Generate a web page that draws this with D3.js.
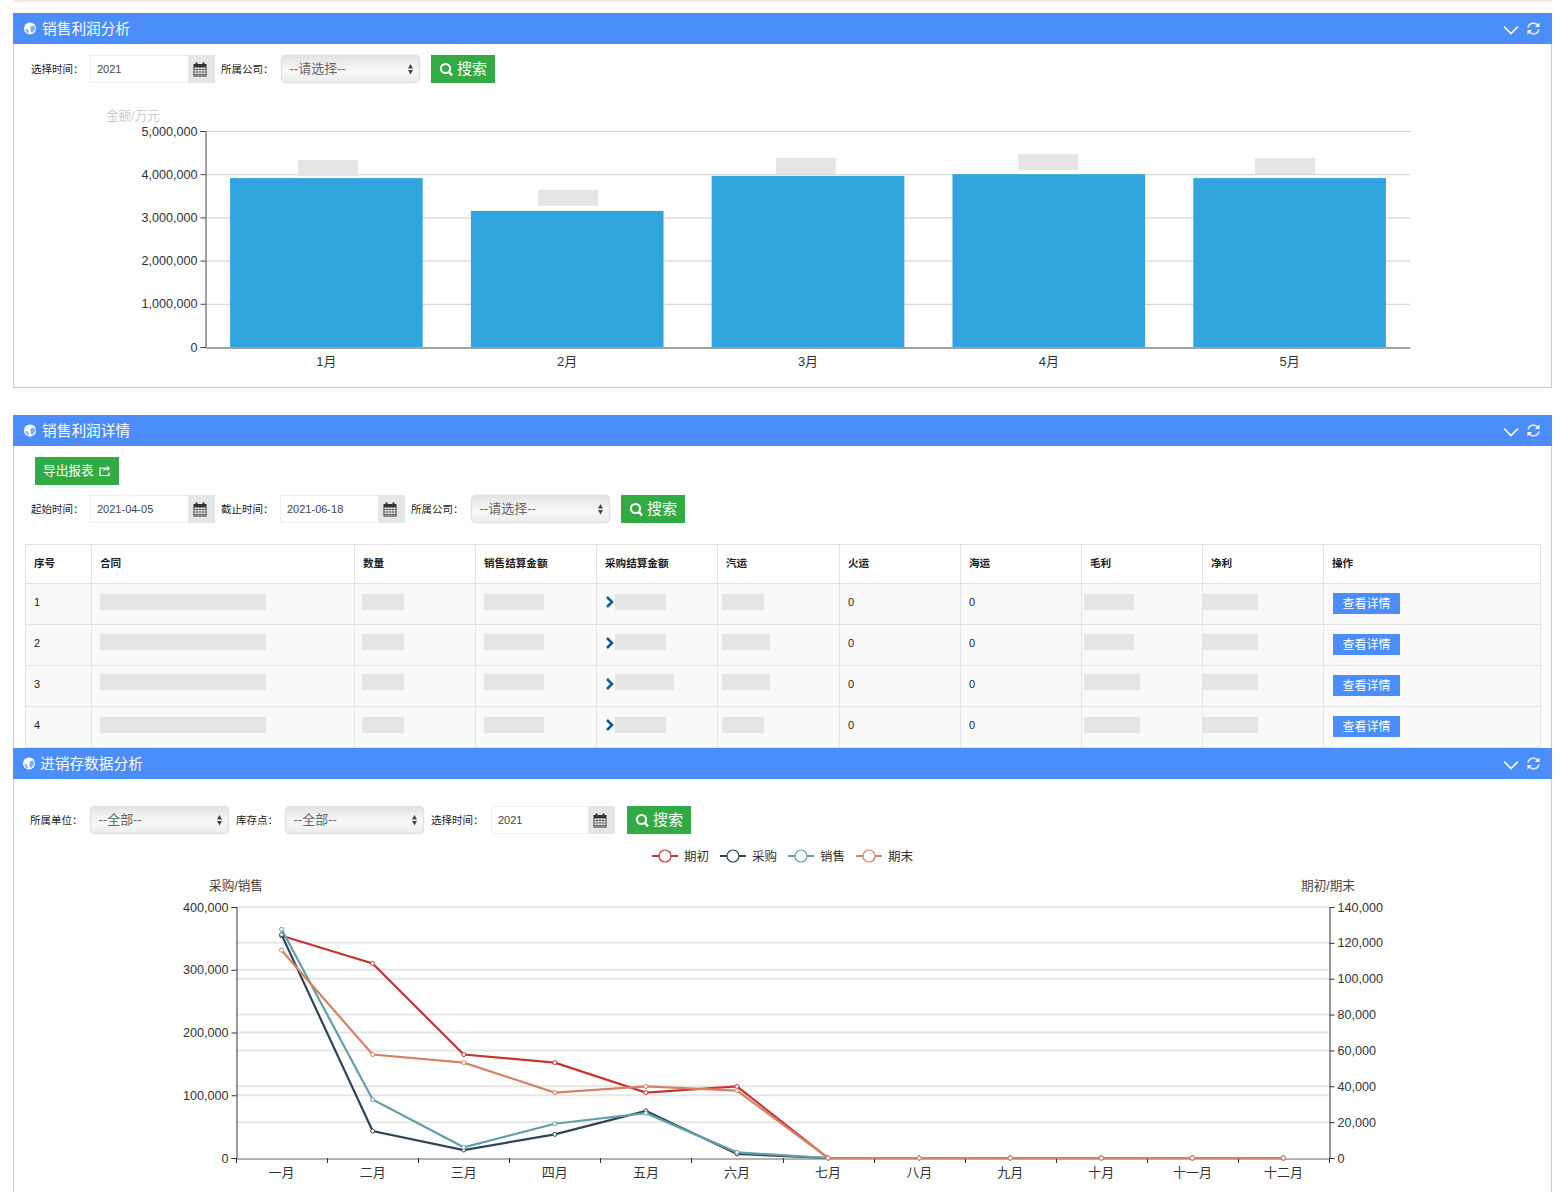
<!DOCTYPE html>
<html lang="zh">
<head>
<meta charset="utf-8">
<title>销售利润分析</title>
<script src="https://cdn.jsdelivr.net/npm/d3@7/dist/d3.min.js"></script>
<style>
  html, body { margin: 0; padding: 0; background: #fff; overflow: hidden; }
  svg { display: block; }
  text { font-family: "Liberation Sans", "Noto Sans CJK SC", sans-serif; }
</style>
</head>
<body>
<svg id="page" width="1566" height="1192"></svg>
<script>
"use strict";

// profit bar chart
const BAR_MONTHS = ["1月", "2月", "3月", "4月", "5月"];
const BAR_VALUES = [3910000, 3150000, 3960000, 4000000, 3910000];
const BAR_TICKS = [0, 1000000, 2000000, 3000000, 4000000, 5000000];

// detail table
const TABLE_HEADERS = ["序号", "合同", "数量", "销售结算金额", "采购结算金额", "汽运", "火运", "海运", "毛利", "净利", "操作"];
const TABLE_ROWS = ["1", "2", "3", "4"];
const RAIL_COSTS = ["0", "0", "0", "0"];
const SEA_COSTS = ["0", "0", "0", "0"];

// stock line chart
const LINE_MONTHS = ["一月", "二月", "三月", "四月", "五月", "六月", "七月", "八月", "九月", "十月", "十一月", "十二月"];
const OPENING = [124000, 108500, 57700, 53200, 36500, 39900, 0, 0, 0, 0, 0, 0];
const PURCHASE = [356000, 43000, 12700, 37600, 75200, 6400, 0, 0, 0, 0, 0, 0];
const SALES = [364500, 93200, 17000, 54600, 71500, 9000, 0, 0, 0, 0, 0, 0];
const CLOSING = [115900, 57700, 53200, 36500, 39900, 37600, 0, 0, 0, 0, 0, 0];
const LEFT_TICKS = [0, 100000, 200000, 300000, 400000];
const RIGHT_TICKS = [0, 20000, 40000, 60000, 80000, 100000, 120000, 140000];

const BLUE = "#4a8dfb";
const GREEN = "#33ab45";
const MASK = "#e5e5e5";
const EDGE = "#b9d2fb";
const COMMA = d3.format(",");

const svg = d3.select("#page");

drawPanel(13, 13, 1539, 375, "销售利润分析", "#c9c9c9");
drawPanel(13, 415, 1539, 333, "销售利润详情", null);
drawBarChart();
drawDetailTable();
drawControls();
drawPanel(13, 748, 1539, 460, "进销存数据分析", null);
drawStockControls();
drawLineChart();

function drawPanel(x, y, w, h, title, bottomColor) {
  const g = svg.append("g");
  if (y === 13) g.append("rect").attr("x", x).attr("y", 0).attr("width", w).attr("height", 2).attr("fill", "#ececec");
  g.append("rect").attr("x", x).attr("y", y).attr("width", w).attr("height", h).attr("fill", "#fff");
  g.append("line").attr("x1", x + 0.5).attr("x2", x + 0.5).attr("y1", y).attr("y2", y + h).attr("stroke", EDGE);
  g.append("line").attr("x1", x + w - 0.5).attr("x2", x + w - 0.5).attr("y1", y).attr("y2", y + h).attr("stroke", EDGE);
  if (bottomColor) g.append("line").attr("x1", x).attr("x2", x + w).attr("y1", y + h - 0.5).attr("y2", y + h - 0.5).attr("stroke", bottomColor);
  g.append("rect").attr("x", x).attr("y", y).attr("width", w).attr("height", 31).attr("fill", BLUE);
  const cy = y + 15.5;
  const titleX = y === 748 ? x + 27 : x + 29;
  const globeX = y === 748 ? x + 16 : x + 17;
  g.append("circle").attr("cx", globeX).attr("cy", cy).attr("r", 6).attr("fill", "#fff");
  g.append("path").attr("d", "M" + (globeX + 0.5) + " " + (cy - 2) + "l3.5 -1 l1.5 3 l-3 4.5 l-2 -1.5 z M" + (globeX - 5) + " " + (cy + 0.5) + "l3 0.5 l1 3 l-1.5 1 z").attr("fill", "#7fb0fc");
  g.append("text").attr("x", titleX).attr("y", cy + 5).attr("font-size", 14.7).attr("fill", "#fff").text(title);
  const ax = x + w - 41;
  g.append("path").attr("d", "M" + (ax - 7) + " " + (cy - 2) + "l7 7 l7 -7").attr("fill", "none").attr("stroke", "#fff").attr("stroke-width", 1.6);
  const rx = x + w - 18.5;
  g.append("path").attr("d", "M" + (rx - 5.5) + " " + (cy - 1) + "A5.6 5.6 0 0 1 " + (rx + 4.5) + " " + (cy - 3)).attr("fill", "none").attr("stroke", "#fff").attr("stroke-opacity", 0.8).attr("stroke-width", 1.6);
  g.append("path").attr("d", "M" + (rx + 5.5) + " " + (cy + 1) + "A5.6 5.6 0 0 1 " + (rx - 4.5) + " " + (cy + 3)).attr("fill", "none").attr("stroke", "#fff").attr("stroke-opacity", 0.8).attr("stroke-width", 1.6);
  g.append("path").attr("d", "M" + (rx + 6) + " " + (cy - 6) + "v4.5h-4.5z").attr("fill", "#fff");
  g.append("path").attr("d", "M" + (rx - 6) + " " + (cy + 6) + "v-4.5h4.5z").attr("fill", "#fff");
}

function drawLabel(x, y, text) {
  svg.append("text").attr("x", x).attr("y", y + 4).attr("font-size", 10.5).attr("fill", "#222").text(text);
}

function drawDateInput(x, y, w, value) {
  svg.append("rect").attr("x", x + 0.5).attr("y", y + 0.5).attr("width", w - 1).attr("height", 27).attr("fill", "#fff").attr("stroke", "#eee");
  svg.append("rect").attr("x", x + w - 27).attr("y", y).attr("width", 27).attr("height", 28).attr("fill", "#e6e6e6");
  svg.append("text").attr("x", x + 7).attr("y", y + 18).attr("font-size", 11).attr("fill", "#444").text(value);
  const cx = x + w - 15;
  const cy = y + 14;
  const icon = svg.append("g").attr("transform", "translate(" + (cx - 6.5) + "," + (cy - 6.5) + ")");
  icon.append("rect").attr("x", 0.5).attr("y", 2).attr("width", 12).attr("height", 11.5).attr("fill", "#fff").attr("stroke", "#333");
  icon.append("rect").attr("x", 0.5).attr("y", 2).attr("width", 12).attr("height", 3).attr("fill", "#333");
  d3.range(3, 12, 3).forEach(function addVertical(p) {
    icon.append("line").attr("x1", p + 0.5).attr("x2", p + 0.5).attr("y1", 5).attr("y2", 13).attr("stroke", "#555").attr("stroke-width", 0.8);
  });
  d3.range(7, 13, 2.5).forEach(function addHorizontal(p) {
    icon.append("line").attr("x1", 0.5).attr("x2", 12.5).attr("y1", p).attr("y2", p).attr("stroke", "#555").attr("stroke-width", 0.8);
  });
  [3, 10].forEach(function addRing(p) {
    icon.append("rect").attr("x", p - 1).attr("y", 0).attr("width", 2).attr("height", 3.5).attr("fill", "#333");
  });
}

function drawSelect(x, y, value) {
  const id = "sel" + x + "_" + y;
  const grad = svg.append("defs").append("linearGradient").attr("id", id).attr("x1", 0).attr("x2", 0).attr("y1", 0).attr("y2", 1);
  grad.append("stop").attr("offset", 0).attr("stop-color", "#e3e3e3");
  grad.append("stop").attr("offset", 0.55).attr("stop-color", "#f8f8f8");
  grad.append("stop").attr("offset", 1).attr("stop-color", "#ececec");
  svg.append("rect").attr("x", x + 0.5).attr("y", y + 0.5).attr("width", 138).attr("height", 27).attr("rx", 4).attr("fill", "url(#" + id + ")").attr("stroke", "#e2e2e2").attr("stroke-width", 1.5);
  svg.append("text").attr("x", x + 8.5).attr("y", y + 18).attr("font-size", 13).attr("fill", "#666").text(value);
  svg.append("path").attr("d", "M" + (x + 129.5) + " " + (y + 9) + "l-2.5 4.5h5z M" + (x + 129.5) + " " + (y + 19.5) + "l-2.5 -4.5h5z").attr("fill", "#444");
}

function drawSearchButton(x, y) {
  svg.append("rect").attr("x", x).attr("y", y).attr("width", 64).attr("height", 28).attr("fill", GREEN);
  svg.append("circle").attr("cx", x + 14.5).attr("cy", y + 13.5).attr("r", 4.6).attr("fill", "none").attr("stroke", "#fff").attr("stroke-width", 2);
  svg.append("line").attr("x1", x + 18).attr("y1", y + 17).attr("x2", x + 21).attr("y2", y + 20.5).attr("stroke", "#fff").attr("stroke-width", 2.4);
  svg.append("text").attr("x", x + 26).attr("y", y + 19).attr("font-size", 15).attr("fill", "#fff").text("搜索");
}

function drawControls() {
  drawLabel(31, 69, "选择时间：");
  drawDateInput(90, 55, 125, "2021");
  drawLabel(221, 69, "所属公司：");
  drawSelect(281, 55, "--请选择--");
  drawSearchButton(431, 55);

  svg.append("rect").attr("x", 35).attr("y", 457).attr("width", 84).attr("height", 28).attr("fill", GREEN);
  svg.append("text").attr("x", 43).attr("y", 475).attr("font-size", 12.7).attr("fill", "#fff").text("导出报表");
  svg.append("path").attr("d", "M106 468h-6v7.5h9v-3").attr("fill", "none").attr("stroke", "#fff").attr("stroke-width", 1.2);
  svg.append("path").attr("d", "M103 471.5c0.5 -3 2 -4 4.5 -4v-2l2.5 3l-2.5 3v-2c-2 0 -3 0.5 -4.5 2z").attr("fill", "#fff");

  drawLabel(31, 509, "起始时间：");
  drawDateInput(90, 495, 125, "2021-04-05");
  drawLabel(221, 509, "截止时间：");
  drawDateInput(280, 495, 125, "2021-06-18");
  drawLabel(411, 509, "所属公司：");
  drawSelect(471, 495, "--请选择--");
  drawSearchButton(621, 495);
}

function drawStockControls() {
  drawLabel(30, 820, "所属单位：");
  drawSelect(90, 806, "--全部--");
  drawLabel(236, 820, "库存点：");
  drawSelect(285, 806, "--全部--");
  drawLabel(431, 820, "选择时间：");
  drawDateInput(491, 806, 124, "2021");
  drawSearchButton(627, 806);
}

function styleAxis(g, color, size) {
  g.selectAll(".domain").attr("stroke", color);
  g.selectAll(".tick line").attr("stroke", color);
  g.selectAll(".tick text").attr("fill", "#333").attr("font-size", size).attr("font-family", null);
  g.attr("font-family", null);
}

function drawBarChart() {
  const x = d3.scaleBand().domain(BAR_MONTHS).range([206, 1410]).paddingInner(0.2).paddingOuter(0.1);
  const y = d3.scaleLinear().domain([0, 5000000]).range([347, 131]);
  const g = svg.append("g");

  g.selectAll("line.grid").data(BAR_TICKS.slice(1)).join("line").attr("class", "grid")
    .attr("x1", 206).attr("x2", 1410).attr("y1", function gy(d) { return y(d) + 0.5; }).attr("y2", function gy(d) { return y(d) + 0.5; })
    .attr("stroke", "#ccc");

  g.selectAll("rect.bar").data(BAR_VALUES).join("rect").attr("class", "bar")
    .attr("x", function bx(d, i) { return x(BAR_MONTHS[i]); }).attr("width", x.bandwidth())
    .attr("y", function by(d) { return y(d); }).attr("height", function bh(d) { return 347 - y(d); })
    .attr("fill", "#31a3dd");

  // hidden value labels above the bars
  const lift = [18, 21, 18, 20, 20];
  const shift = [28.5, 29, 32, 30.5, 34.5];
  g.selectAll("rect.mask").data(BAR_VALUES).join("rect").attr("class", "mask")
    .attr("x", function mx(d, i) { return x(BAR_MONTHS[i]) + x.bandwidth() / 2 - shift[i]; }).attr("width", 60)
    .attr("y", function my(d, i) { return y(d) - lift[i]; }).attr("height", 16).attr("fill", MASK);

  const left = g.append("g").attr("transform", "translate(205.5,0)")
    .call(d3.axisLeft(y).tickValues(BAR_TICKS).tickFormat(COMMA).tickSize(5).tickPadding(3));
  styleAxis(left, "#444", 12.6);
  const bottom = g.append("g").attr("transform", "translate(0,347.5)")
    .call(d3.axisBottom(x).tickSize(0).tickPadding(9));
  styleAxis(bottom, "#444", 13);

  g.append("text").attr("x", 106).attr("y", 120).attr("font-size", 12.6).attr("fill", "#ccc").text("金额/万元");
}

function drawDetailTable() {
  const edges = [25, 91, 354, 475, 596, 717, 839, 960, 1081, 1202, 1323, 1540];
  const rowEdges = [544, 583, 624, 665, 706, 747];
  const g = svg.append("g");
  g.append("rect").attr("x", 25).attr("y", 583).attr("width", 1515).attr("height", 164).attr("fill", "#f9f9f9");

  rowEdges.forEach(function addRow(ry) {
    g.append("line").attr("x1", 25).attr("x2", 1540).attr("y1", ry + 0.5).attr("y2", ry + 0.5).attr("stroke", "#e3e3e3");
  });
  edges.forEach(function addColumn(cx) {
    g.append("line").attr("x1", cx + 0.5).attr("x2", cx + 0.5).attr("y1", 544).attr("y2", 747).attr("stroke", "#e3e3e3");
  });
  TABLE_HEADERS.forEach(function addHeader(name, i) {
    g.append("text").attr("x", edges[i] + 9).attr("y", 567).attr("font-size", 10.6).attr("font-weight", 700).attr("fill", "#222").text(name);
  });

  const maskTops = [594, 634, 674, 717];
  const maskSpans = [
    [[100, 266], [362, 404], [484, 544], [615, 666], [722, 764], [1084, 1134], [1203, 1258]],
    [[100, 266], [362, 404], [484, 544], [615, 666], [722, 770], [1084, 1134], [1203, 1258]],
    [[100, 266], [362, 404], [484, 544], [615, 674], [722, 770], [1084, 1140], [1203, 1258]],
    [[100, 266], [362, 404], [484, 544], [615, 666], [722, 764], [1084, 1140], [1203, 1258]],
  ];

  TABLE_ROWS.forEach(function addCells(label, i) {
    const cy = (rowEdges[i + 1] + rowEdges[i + 2]) / 2;
    g.append("text").attr("x", 34).attr("y", cy + 2.5).attr("font-size", 11).attr("fill", "#222").text(label);
    g.append("text").attr("x", 848).attr("y", cy + 2.5).attr("font-size", 11).attr("fill", "#222").text(RAIL_COSTS[i]);
    g.append("text").attr("x", 969).attr("y", cy + 2.5).attr("font-size", 11).attr("fill", "#222").text(SEA_COSTS[i]);
    maskSpans[i].forEach(function addMask(span) {
      g.append("rect").attr("x", span[0]).attr("y", maskTops[i]).attr("width", span[1] - span[0]).attr("height", 16).attr("fill", MASK);
    });
    g.append("path").attr("d", "M607 " + (cy - 6.5) + "l5 5 l-5 5").attr("fill", "none").attr("stroke", "#0f5e94").attr("stroke-width", 2.6);
    g.append("rect").attr("x", 1333).attr("y", cy - 10.5).attr("width", 67).attr("height", 21).attr("fill", BLUE);
    g.append("text").attr("x", 1366.5).attr("y", cy + 4).attr("text-anchor", "middle").attr("font-size", 12).attr("fill", "#fff").text("查看详情");
  });
}

function drawLineChart() {
  const x = d3.scaleBand().domain(LINE_MONTHS).range([236, 1329]);
  const yLeft = d3.scaleLinear().domain([0, 400000]).range([1158, 907]);
  const yRight = d3.scaleLinear().domain([0, 140000]).range([1158, 907]);
  const series = [
    { name: "期初", values: OPENING, scale: yRight, color: "#c23531" },
    { name: "采购", values: PURCHASE, scale: yLeft, color: "#2f4554" },
    { name: "销售", values: SALES, scale: yLeft, color: "#61a0a8" },
    { name: "期末", values: CLOSING, scale: yRight, color: "#d48265" },
  ];
  const g = svg.append("g");

  LEFT_TICKS.slice(1).forEach(function addGrid(t) {
    g.append("line").attr("x1", 236).attr("x2", 1329).attr("y1", yLeft(t)).attr("y2", yLeft(t)).attr("stroke", "#e6e6e6").attr("stroke-width", 2);
  });
  RIGHT_TICKS.slice(1).forEach(function addGrid(t) {
    g.append("line").attr("x1", 236).attr("x2", 1329).attr("y1", yRight(t)).attr("y2", yRight(t)).attr("stroke", "#e6e6e6").attr("stroke-width", 2);
  });

  const left = g.append("g").attr("transform", "translate(236.5,0)")
    .call(d3.axisLeft(yLeft).tickValues(LEFT_TICKS).tickFormat(COMMA).tickSize(5).tickPadding(3));
  styleAxis(left, "#333", 12.6);
  const right = g.append("g").attr("transform", "translate(1329.5,0)")
    .call(d3.axisRight(yRight).tickValues(RIGHT_TICKS).tickFormat(COMMA).tickSize(5).tickPadding(3));
  styleAxis(right, "#333", 12.6);
  const bottom = g.append("g").attr("transform", "translate(0,1158.5)")
    .call(d3.axisBottom(x).tickSize(0).tickPadding(9));
  styleAxis(bottom, "#666", 13);

  // ticks sit on the category edges
  const edgeTicks = LINE_MONTHS.map(function edge(m) { return x(m); }).concat([x.range()[1]]);
  g.selectAll("line.xtick").data(edgeTicks).join("line").attr("class", "xtick")
    .attr("x1", function ex(d) { return Math.round(d) + 0.5; }).attr("x2", function ex(d) { return Math.round(d) + 0.5; })
    .attr("y1", 1158).attr("y2", 1163).attr("stroke", "#333");

  series.forEach(function addSeries(s) {
    const line = d3.line().x(function lx(d, i) { return x(LINE_MONTHS[i]) + x.bandwidth() / 2; }).y(function ly(d) { return s.scale(d); });
    g.append("path").attr("d", line(s.values)).attr("fill", "none").attr("stroke", s.color).attr("stroke-width", 2.2);
    g.selectAll("circle.p" + s.name).data(s.values).join("circle").attr("class", "p" + s.name)
      .attr("cx", function cx(d, i) { return x(LINE_MONTHS[i]) + x.bandwidth() / 2; }).attr("cy", function cy(d) { return s.scale(d); })
      .attr("r", 2).attr("fill", "#fff").attr("stroke", s.color);
  });

  series.forEach(function addLegend(s, i) {
    const lx = 652 + i * 68;
    g.append("line").attr("x1", lx).attr("x2", lx + 26).attr("y1", 856).attr("y2", 856).attr("stroke", s.color).attr("stroke-width", 2);
    g.append("circle").attr("cx", lx + 13).attr("cy", 856).attr("r", 6).attr("fill", "#fff").attr("stroke", s.color).attr("stroke-width", 1.2);
    g.append("text").attr("x", lx + 32).attr("y", 860.5).attr("font-size", 12.5).attr("fill", "#333").text(s.name);
  });

  g.append("text").attr("x", 236).attr("y", 889.5).attr("text-anchor", "middle").attr("font-size", 12.6).attr("fill", "#444").text("采购/销售");
  g.append("text").attr("x", 1328).attr("y", 889.5).attr("text-anchor", "middle").attr("font-size", 12.6).attr("fill", "#444").text("期初/期末");
}
</script>
</body>
</html>
